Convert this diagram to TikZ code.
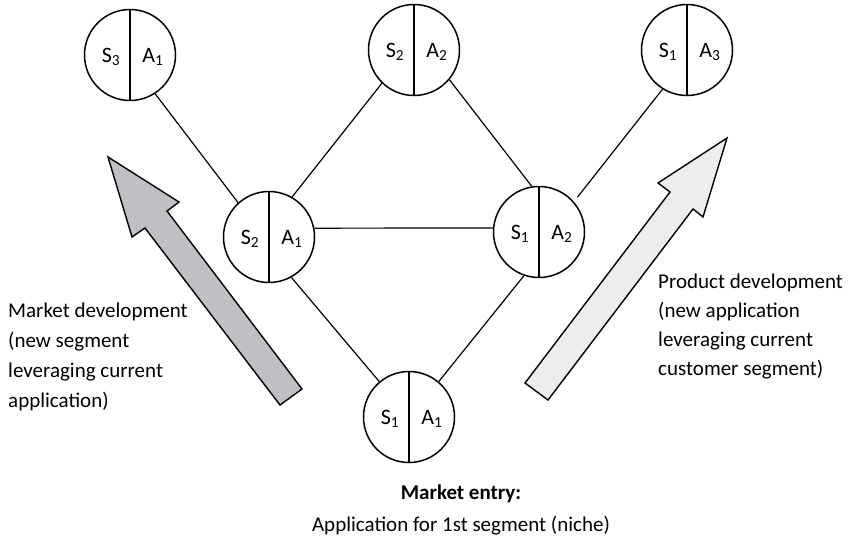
\documentclass[tikz,border=0pt]{standalone}
\usepackage{fontspec}
\setmainfont{Carlito}
\definecolor{darkarrow}{RGB}{191,192,196}
\definecolor{lightarrow}{RGB}{237,237,237}
\begin{document}
\begin{tikzpicture}[x=1pt,y=-1pt,
  seg/.style={circle,draw,line width=1.5pt,minimum size=91pt,inner sep=0pt},
  lab/.style={font=\fontsize{22}{26}\selectfont,inner sep=0pt,anchor=base},
  link/.style={line width=1.2pt},
  sidetext/.style={align=left,inner sep=0pt,anchor=base west},
  bottomtext/.style={font=\fontsize{21}{26}\selectfont,inner sep=0pt,anchor=base},
  blockarrow/.style={draw,line width=1.4pt,line join=miter}]
\useasboundingbox (0,0) rectangle (850,538);

% block arrows
\draw[blockarrow,fill=darkarrow] (108,157) -- (179,202) -- (167,211) -- (302,389) -- (280,405) -- (145,228) -- (132,237) -- cycle;
\draw[blockarrow,fill=lightarrow] (727,138) -- (703,217) -- (693,209) -- (548,400) -- (525,383) -- (670,192) -- (658,183) -- cycle;

% circles
\node[seg] (s3a1) at (130,55) {};
\node[seg] (s2a2) at (414,50) {};
\node[seg] (s1a3) at (687,50) {};
\node[seg] (s2a1) at (269,237) {};
\node[seg] (s1a2) at (539,232) {};
\node[seg] (s1a1) at (409,417) {};
\foreach \n in {s3a1,s2a2,s1a3,s2a1,s1a2,s1a1}
  \draw[line width=1.5pt] (\n.north) -- (\n.south);

% labels
\node[lab] (s3a1s) at ([xshift=-19pt,yshift=-7pt]s3a1.center) {S\textsubscript{3}};
\node[lab] (s3a1a) at ([xshift=23pt,yshift=-7pt]s3a1.center) {A\textsubscript{1}};
\node[lab] (s2a2s) at ([xshift=-19pt,yshift=-7pt]s2a2.center) {S\textsubscript{2}};
\node[lab] (s2a2a) at ([xshift=23pt,yshift=-7pt]s2a2.center) {A\textsubscript{2}};
\node[lab] (s1a3s) at ([xshift=-19pt,yshift=-7pt]s1a3.center) {S\textsubscript{1}};
\node[lab] (s1a3a) at ([xshift=23pt,yshift=-7pt]s1a3.center) {A\textsubscript{3}};
\node[lab] (s2a1s) at ([xshift=-19pt,yshift=-7pt]s2a1.center) {S\textsubscript{2}};
\node[lab] (s2a1a) at ([xshift=23pt,yshift=-7pt]s2a1.center) {A\textsubscript{1}};
\node[lab] (s1a2s) at ([xshift=-19pt,yshift=-7pt]s1a2.center) {S\textsubscript{1}};
\node[lab] (s1a2a) at ([xshift=23pt,yshift=-7pt]s1a2.center) {A\textsubscript{2}};
\node[lab] (s1a1s) at ([xshift=-19pt,yshift=-7pt]s1a1.center) {S\textsubscript{1}};
\node[lab] (s1a1a) at ([xshift=23pt,yshift=-7pt]s1a1.center) {A\textsubscript{1}};

% connectors
\draw[link] (s3a1.-57) -- (s2a1.132);
\draw[link] (s2a1.60) -- (s2a2.226);
\draw[link] (s2a2.-40) -- (s1a2.99);
\draw[link,shorten <=6pt] (s1a2.41) -- (s1a3.238);
\draw[link] (s2a1.11) -- (s1a2.175);
\draw[link] (s2a1.-61) -- (s1a1.130);
\draw[link] (s1a2.-109) -- (s1a1.50);

% texts
\node[sidetext,font=\fontsize{21}{30}\selectfont] (mdev) at (8,407)
  {Market development\\(new segment\\leveraging current\\application)};
\node[sidetext,font=\fontsize{21}{29}\selectfont] (pdev) at (658,375)
  {Product development\\(new application\\leveraging current\\customer segment)};
\node[bottomtext,font=\fontsize{21}{26}\selectfont\bfseries] (entry) at (461,499) {Market entry:};
\node[bottomtext] (niche) at (461,531) {Application for 1st segment (niche)};
\end{tikzpicture}
\end{document}
